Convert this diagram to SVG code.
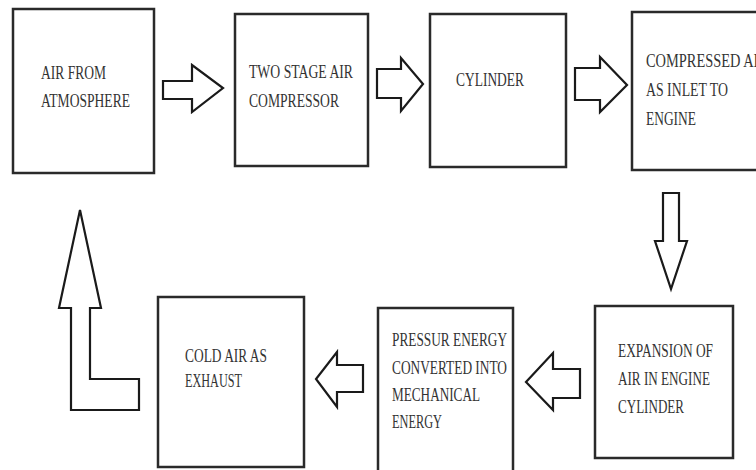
<svg xmlns="http://www.w3.org/2000/svg" width="756" height="470" viewBox="0 0 756 470">
<style>
.box{fill:#fff;stroke:#2a2a2a;stroke-width:2.5}
.arr{fill:#fff;stroke:#1a1a1a;stroke-width:2.2;stroke-linejoin:miter}
.t{font-family:"Liberation Serif","DejaVu Serif","Times New Roman",serif;font-size:18px;fill:#333}
</style>
<rect width="756" height="470" fill="#fff"/>
<g id="connectors">
<path class="arr" d="M163,81 L192,81 L192,65 L223,88 L192,112 L192,99 L163,99 Z"/>
<path class="arr" d="M377,69 L401,69 L401,58 L423,84 L401,111 L401,98 L377,98 Z"/>
<path class="arr" d="M575,68 L600,68 L600,57 L627,85 L600,112 L600,100 L575,100 Z"/>
<path class="arr" d="M663,193 L679,193 L679,241 L687,241 L671,289 L655,241 L663,241 Z"/>
<path class="arr" d="M580,369 L553,369 L553,353 L526,382 L553,410 L553,398 L580,398 Z"/>
<path class="arr" d="M363,365 L337,365 L337,352 L316,379 L337,407 L337,392 L363,392 Z"/>
<path class="arr" d="M80,210 L101,308 L90,308 L90,379 L139,379 L139,410 L71,410 L71,308 L59,308 Z"/>
</g>
<g id="n1">
<rect class="box" x="13" y="9" width="141" height="164"/>
<text class="t" x="41" y="79" textLength="65" lengthAdjust="spacingAndGlyphs">AIR FROM</text>
<text class="t" x="41" y="107" textLength="89" lengthAdjust="spacingAndGlyphs">ATMOSPHERE</text>
</g>
<g id="n2">
<rect class="box" x="235" y="14" width="133" height="152"/>
<text class="t" x="249" y="78" textLength="104" lengthAdjust="spacingAndGlyphs">TWO STAGE AIR</text>
<text class="t" x="249" y="107" textLength="90" lengthAdjust="spacingAndGlyphs">COMPRESSOR</text>
</g>
<g id="n3">
<rect class="box" x="430" y="14" width="136" height="153"/>
<text class="t" x="456" y="86" textLength="68" lengthAdjust="spacingAndGlyphs">CYLINDER</text>
</g>
<g id="n4">
<rect class="box" x="632" y="12" width="140" height="158"/>
<text class="t" x="646" y="67" textLength="122" lengthAdjust="spacingAndGlyphs">COMPRESSED AIR</text>
<text class="t" x="646" y="96" textLength="82" lengthAdjust="spacingAndGlyphs">AS INLET TO</text>
<text class="t" x="646" y="125" textLength="50" lengthAdjust="spacingAndGlyphs">ENGINE</text>
</g>
<g id="n5">
<rect class="box" x="595" y="306" width="138" height="152"/>
<text class="t" x="618" y="357" textLength="95" lengthAdjust="spacingAndGlyphs">EXPANSION OF</text>
<text class="t" x="618" y="385" textLength="92" lengthAdjust="spacingAndGlyphs">AIR IN ENGINE</text>
<text class="t" x="618" y="413" textLength="66" lengthAdjust="spacingAndGlyphs">CYLINDER</text>
</g>
<g id="n6">
<rect class="box" x="378" y="308" width="135" height="180"/>
<text class="t" x="392" y="346" textLength="115" lengthAdjust="spacingAndGlyphs">PRESSUR ENERGY</text>
<text class="t" x="392" y="374" textLength="115" lengthAdjust="spacingAndGlyphs">CONVERTED INTO</text>
<text class="t" x="392" y="401" textLength="88" lengthAdjust="spacingAndGlyphs">MECHANICAL</text>
<text class="t" x="392" y="428" textLength="50" lengthAdjust="spacingAndGlyphs">ENERGY</text>
</g>
<g id="n7">
<rect class="box" x="158" y="297" width="146" height="170"/>
<text class="t" x="185" y="362" textLength="82" lengthAdjust="spacingAndGlyphs">COLD AIR AS</text>
<text class="t" x="185" y="387" textLength="57" lengthAdjust="spacingAndGlyphs">EXHAUST</text>
</g>
</svg>
